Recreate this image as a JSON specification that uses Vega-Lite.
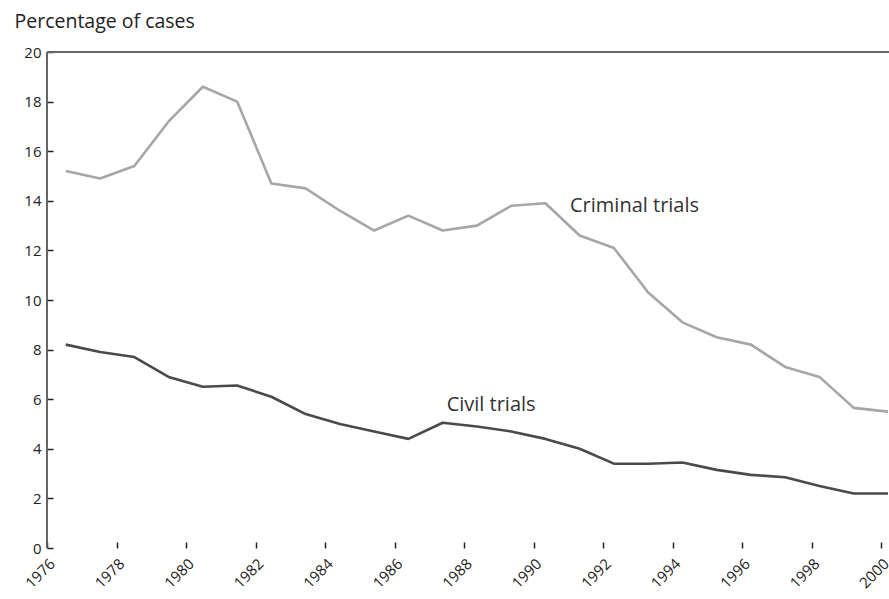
{
  "$schema": "https://vega.github.io/schema/vega-lite/v6.json",
  "width": 842,
  "height": 496,
  "padding": {"left": 47, "top": 52, "right": 0, "bottom": 51},
  "autosize": {"type": "none"},
  "background": "white",
  "datasets": {
    "trials": [
      {"year": 1976, "series": "Criminal trials", "pct": 15.2},
      {"year": 1977, "series": "Criminal trials", "pct": 14.9},
      {"year": 1978, "series": "Criminal trials", "pct": 15.4},
      {"year": 1979, "series": "Criminal trials", "pct": 17.2},
      {"year": 1980, "series": "Criminal trials", "pct": 18.6},
      {"year": 1981, "series": "Criminal trials", "pct": 18.0},
      {"year": 1982, "series": "Criminal trials", "pct": 14.7},
      {"year": 1983, "series": "Criminal trials", "pct": 14.5},
      {"year": 1984, "series": "Criminal trials", "pct": 13.6},
      {"year": 1985, "series": "Criminal trials", "pct": 12.8},
      {"year": 1986, "series": "Criminal trials", "pct": 13.4},
      {"year": 1987, "series": "Criminal trials", "pct": 12.8},
      {"year": 1988, "series": "Criminal trials", "pct": 13.0},
      {"year": 1989, "series": "Criminal trials", "pct": 13.8},
      {"year": 1990, "series": "Criminal trials", "pct": 13.9},
      {"year": 1991, "series": "Criminal trials", "pct": 12.6},
      {"year": 1992, "series": "Criminal trials", "pct": 12.1},
      {"year": 1993, "series": "Criminal trials", "pct": 10.3},
      {"year": 1994, "series": "Criminal trials", "pct": 9.1},
      {"year": 1995, "series": "Criminal trials", "pct": 8.5},
      {"year": 1996, "series": "Criminal trials", "pct": 8.2},
      {"year": 1997, "series": "Criminal trials", "pct": 7.3},
      {"year": 1998, "series": "Criminal trials", "pct": 6.9},
      {"year": 1999, "series": "Criminal trials", "pct": 5.65},
      {"year": 2000, "series": "Criminal trials", "pct": 5.5},
      {"year": 1976, "series": "Civil trials", "pct": 8.2},
      {"year": 1977, "series": "Civil trials", "pct": 7.9},
      {"year": 1978, "series": "Civil trials", "pct": 7.7},
      {"year": 1979, "series": "Civil trials", "pct": 6.9},
      {"year": 1980, "series": "Civil trials", "pct": 6.5},
      {"year": 1981, "series": "Civil trials", "pct": 6.55},
      {"year": 1982, "series": "Civil trials", "pct": 6.1},
      {"year": 1983, "series": "Civil trials", "pct": 5.4},
      {"year": 1984, "series": "Civil trials", "pct": 5.0},
      {"year": 1985, "series": "Civil trials", "pct": 4.7},
      {"year": 1986, "series": "Civil trials", "pct": 4.4},
      {"year": 1987, "series": "Civil trials", "pct": 5.05},
      {"year": 1988, "series": "Civil trials", "pct": 4.9},
      {"year": 1989, "series": "Civil trials", "pct": 4.7},
      {"year": 1990, "series": "Civil trials", "pct": 4.4},
      {"year": 1991, "series": "Civil trials", "pct": 4.0},
      {"year": 1992, "series": "Civil trials", "pct": 3.4},
      {"year": 1993, "series": "Civil trials", "pct": 3.4},
      {"year": 1994, "series": "Civil trials", "pct": 3.45},
      {"year": 1995, "series": "Civil trials", "pct": 3.15},
      {"year": 1996, "series": "Civil trials", "pct": 2.95},
      {"year": 1997, "series": "Civil trials", "pct": 2.85},
      {"year": 1998, "series": "Civil trials", "pct": 2.5},
      {"year": 1999, "series": "Civil trials", "pct": 2.2},
      {"year": 2000, "series": "Civil trials", "pct": 2.2}
    ],
    "labels": [
      {"label": "Criminal trials", "year": 1991.05, "pct": 13.8},
      {"label": "Civil trials", "year": 1987.5, "pct": 5.75}
    ]
  },
  "config": {
    "view": {"stroke": null},
    "font": "Open Sans",
    "axis": {
      "grid": false,
      "ticks": true,
      "labelFont": "Open Sans",
      "labelFontSize": 15,
      "labelColor": "#222222",
      "tickColor": "#222222",
      "tickWidth": 1.5,
      "tickSize": 6,
      "offset": -6,
      "domain": false
    },
    "axisY": {
      "labelPadding": 6,
      "titleAngle": 0,
      "titleAlign": "left",
      "titleBaseline": "alphabetic",
      "titleX": -39,
      "titleY": -25,
      "titleFont": "Open Sans",
      "titleFontSize": 19.5,
      "titleFontWeight": "normal",
      "titleColor": "#222222"
    },
    "axisX": {
      "labelAngle": -45,
      "labelAlign": "right",
      "labelBaseline": "top",
      "labelPadding": 8
    }
  },
  "resolve": {"scale": {"x": "independent"}, "axis": {"x": "independent"}},
  "layer": [
    {
      "layer": [
        {
          "data": {"name": "trials"},
          "mark": {"type": "point", "opacity": 0},
          "encoding": {
            "x": {
              "field": "year", "type": "quantitative",
              "scale": {"domain": [1976, 2000.23], "nice": false, "zero": false},
              "axis": {
                "title": null,
                "ticks": true,
                "tickColor": "#222222",
                "values": [1976,1977,1978,1979,1980,1981,1982,1983,1984,1985,1986,1987,1988,1989,1990,1991,1992,1993,1994,1995,1996,1997,1998,1999,2000],
                "format": "d",
                "labelExpr": "datum.value % 2 == 0 ? datum.label : ''"
              }
            },
            "y": {
              "field": "pct", "type": "quantitative",
              "scale": {"domain": [0, 20], "nice": false},
              "title": "Percentage of cases",
              "axis": {"values": [0,2,4,6,8,10,12,14,16,18,20], "ticks": true}
            }
          }
        },
        {
          "data": {"name": "labels"},
          "mark": {"type": "text", "align": "left", "baseline": "middle", "font": "Open Sans", "fontSize": 20, "color": "#333333"},
          "encoding": {
            "x": {"field": "year", "type": "quantitative"},
            "y": {"field": "pct", "type": "quantitative", "title": "Percentage of cases", "axis": {"values": [0,2,4,6,8,10,12,14,16,18,20], "ticks": true}},
            "text": {"field": "label"}
          }
        },
        {
          "data": {"values": [{}]},
          "mark": {"type": "rule", "color": "#555555", "strokeWidth": 1.8},
          "encoding": {"x": {"datum": 1976}}
        }
      ]
    },
    {
      "layer": [
        {
          "data": {"name": "trials"},
          "mark": {"type": "line", "strokeWidth": 2.6, "strokeJoin": "round"},
          "encoding": {
            "x": {
              "field": "year", "type": "quantitative",
              "scale": {"domain": [1975.45, 2000.03], "nice": false, "zero": false},
              "axis": null
            },
            "y": {"field": "pct", "type": "quantitative", "title": "Percentage of cases", "axis": {"values": [0,2,4,6,8,10,12,14,16,18,20], "ticks": true}},
            "color": {
              "field": "series", "type": "nominal",
              "scale": {"domain": ["Criminal trials", "Civil trials"], "range": ["#a6a6a6", "#4a4a4a"]},
              "legend": null
            }
          }
        },
        {
          "data": {"values": [{}]},
          "mark": {"type": "rule", "color": "#666666", "strokeWidth": 2},
          "encoding": {"y": {"datum": 20}}
        }
      ]
    }
  ]
}
